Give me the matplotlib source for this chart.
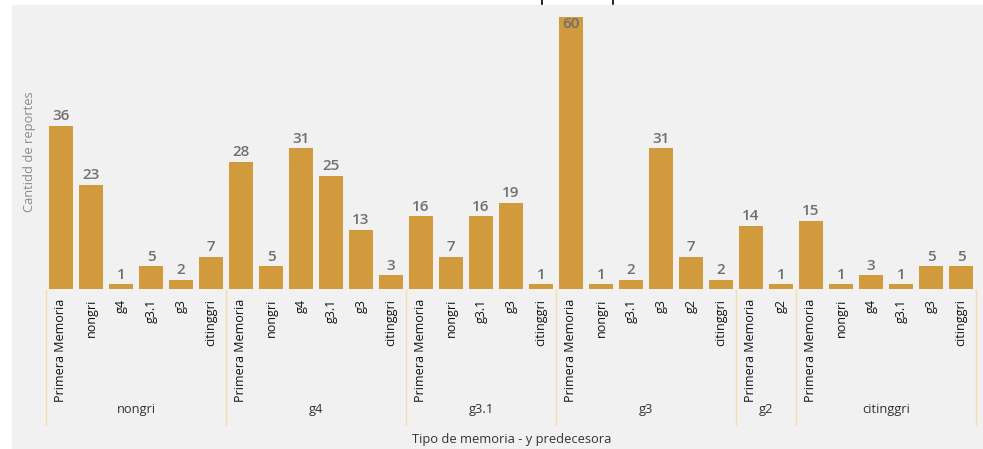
import matplotlib.pyplot as plt
import matplotlib
from matplotlib.patches import Rectangle
from matplotlib.lines import Line2D
from matplotlib.transforms import blended_transform_factory

matplotlib.rcParams['font.family'] = ['Open Sans', 'DejaVu Sans']

# datos: tipo de memoria -> predecesora
grupos = ['nongri', 'g4', 'g3.1', 'g3', 'g2', 'citinggri']
pred_nongri = ['Primera Memoria', 'nongri', 'g4', 'g3.1', 'g3', 'citinggri']
val_nongri = [36, 23, 1, 5, 2, 7]
pred_g4 = ['Primera Memoria', 'nongri', 'g4', 'g3.1', 'g3', 'citinggri']
val_g4 = [28, 5, 31, 25, 13, 3]
pred_g31 = ['Primera Memoria', 'nongri', 'g3.1', 'g3', 'citinggri']
val_g31 = [16, 7, 16, 19, 1]
pred_g3 = ['Primera Memoria', 'nongri', 'g3.1', 'g3', 'g2', 'citinggri']
val_g3 = [60, 1, 2, 31, 7, 2]
pred_g2 = ['Primera Memoria', 'g2']
val_g2 = [14, 1]
pred_cit = ['Primera Memoria', 'nongri', 'g4', 'g3.1', 'g3', 'citinggri']
val_cit = [15, 1, 3, 1, 5, 5]

preds = [pred_nongri, pred_g4, pred_g31, pred_g3, pred_g2, pred_cit]
vals = [val_nongri, val_g4, val_g31, val_g3, val_g2, val_cit]

etiquetas = [p for ps in preds for p in ps]
valores = [v for vs in vals for v in vs]
x = list(range(len(valores)))

W, H = 983, 449
fig = plt.figure(figsize=(W / 100, H / 100), dpi=100)
fig.patch.set_facecolor('white')

# fondo gris estilo Power BI
fig.add_artist(Rectangle((12 / W, 0), 1 - 12 / W, (H - 5) / H,
                         transform=fig.transFigure, color='#f1f1f1', zorder=0))
for px in [542, 613]:
    fig.add_artist(Line2D([px / W, px / W], [1, (H - 4) / H],
                          transform=fig.transFigure, color='black', lw=1.2))

ax = fig.add_axes([46 / W, 160 / H, 930 / W, 272 / H])
ax.set_facecolor('none')
ax.bar(x, valores, width=0.77, color='#D09A3D', zorder=2)
ax.set_xlim(-0.5, len(valores) - 0.5)
ax.set_ylim(0, 60)
for s in ax.spines.values():
    s.set_visible(False)
ax.set_yticks([])
ax.set_xticks(x)
ax.set_xticklabels(etiquetas, rotation=90, fontsize=9, color='#111111', va='top')
ax.tick_params(axis='x', length=0, pad=7)

# valores encima de las barras
for xi, v in zip(x, valores):
    if v == max(valores):
        ax.text(xi, v, str(v), ha='center', va='top', fontsize=11, color='#707070',
                fontweight='semibold')
    else:
        ax.annotate(str(v), (xi, v), xytext=(0, 2), textcoords='offset points',
                    ha='center', va='bottom', fontsize=11, color='#707070',
                    fontweight='semibold')

# separadores y nombres de grupo
tr = blended_transform_factory(ax.transData, fig.transFigure)
inicio = -0.5
for g, vs in zip(grupos, vals):
    fin = inicio + len(vs)
    ax.add_line(Line2D([inicio, inicio], [(H - 290) / H, (H - 425) / H], transform=tr,
                       color='#f5dcb0', lw=1, clip_on=False))
    ax.text((inicio + fin) / 2, (H - 410) / H, g, transform=tr, ha='center', va='center',
            fontsize=9.3, color='#333333')
    inicio = fin
ax.add_line(Line2D([inicio, inicio], [(H - 290) / H, (H - 425) / H], transform=tr,
                   color='#f5dcb0', lw=1, clip_on=False))

fig.text(512 / W, (H - 440) / H, 'Tipo de memoria - y predecesora', ha='center',
         va='center', fontsize=9.3, color='#333333')
fig.text(30 / W, (H - 152) / H, 'Cantidd de reportes', rotation=90, ha='center',
         va='center', fontsize=9.3, color='#8a8a8a')

plt.savefig('out.png', dpi=100)
